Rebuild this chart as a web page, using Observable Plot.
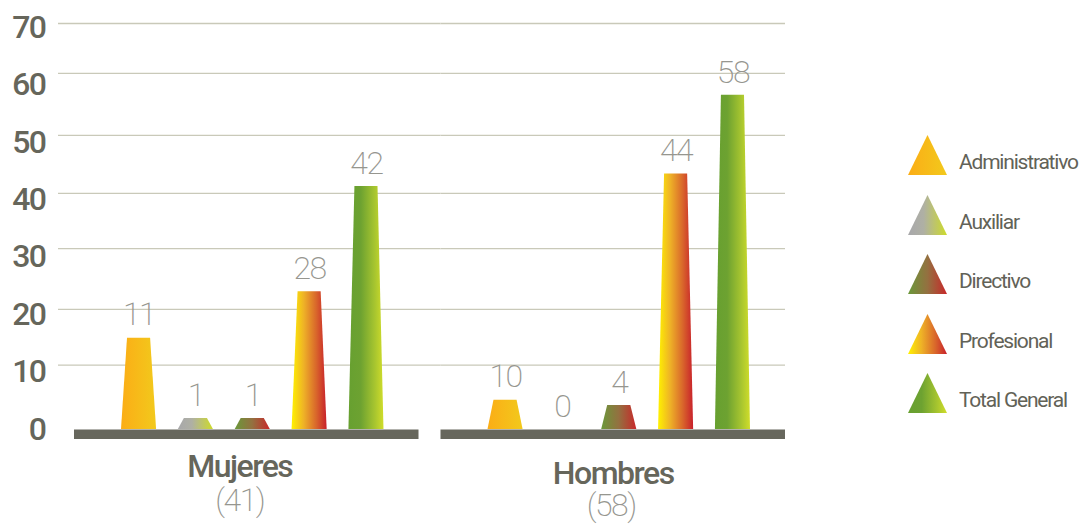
<!DOCTYPE html>
<html><head><meta charset="utf-8">
<script src="https://cdn.jsdelivr.net/npm/d3@7"></script>
<script src="https://cdn.jsdelivr.net/npm/@observablehq/plot@0.6"></script>
<style>
body{margin:0;background:#fff;}
#wrap{position:relative;width:1084px;height:525px;overflow:hidden;font-family:Roboto,sans-serif;background:#fff;}
#legend{position:absolute;left:908px;top:135px;}
.item{position:absolute;left:0;width:176px;height:40px;}
.item svg{position:absolute;left:0;top:0;}
.item span{position:absolute;left:51px;top:16px;font-size:21px;line-height:22px;color:#626257;letter-spacing:-1.2px;white-space:nowrap;}
#chart svg text{letter-spacing:-1.5px;}
</style></head><body>
<div id="wrap">
<svg id="defs" width="0" height="0" style="position:absolute;left:0;top:0"><defs></defs></svg>
<div id="chart"></div>
<div id="legend"></div>
</div>
<script>
// ---- data ----
const groups = ["Mujeres", "Hombres"];
const groupTotals = ["(41)", "(58)"];
const categories = ["Administrativo", "Auxiliar", "Directivo", "Profesional", "Total General"];
const mujeresValues = [15.9, 1.9, 1.9, 24.0, 42.3];   // drawn bar heights
const hombresValues = [5.1, 0, 4.2, 44.5, 58.2];
const mujeresLabels = ["11", "1", "1", "28", "42"];   // printed labels
const hombresLabels = ["10", "0", "4", "44", "58"];
const yTicks = [0, 10, 20, 30, 40, 50, 60, 70];
const gridLevels = [11.2, 20.9, 31.5, 41.1, 51.2, 62.0, 70.7];

// ---- styles ----
const gradientStops = {
  "Administrativo": [[0, "#fbad16"], [1, "#f2c91c"]],
  "Auxiliar": [[0, "#a8a8ab"], [0.4, "#afb0a4"], [1, "#cddb2a"]],
  "Directivo": [[0, "#6a983a"], [0.5, "#947040"], [1, "#c8282a"]],
  "Profesional": [[0, "#fff200"], [0.35, "#eeb127"], [0.7, "#d9672b"], [1, "#c8202b"]],
  "Total General": [[0, "#67a030"], [0.35, "#6da231"], [0.75, "#a7c52f"], [1, "#d0dd2a"]]
};
const textColor = "#66665b";
const lightText = "#96968f";

const defs = d3.select("#defs defs");
categories.forEach((c, i) => {
  const g = defs.append("linearGradient").attr("id", "grad-" + i)
    .attr("x1", 0).attr("x2", 1).attr("y1", 0).attr("y2", 0);
  gradientStops[c].forEach(([o, col]) => g.append("stop").attr("offset", o).attr("stop-color", col));
});
const gradUrl = c => `url(#grad-${categories.indexOf(c)})`;

const data = [];
groups.forEach((g, gi) => categories.forEach((c, ci) => data.push({
  group: g, category: c,
  value: (gi ? hombresValues : mujeresValues)[ci],
  label: (gi ? hombresLabels : mujeresLabels)[ci]
})));

const plot = Plot.plot({
  width: 1084, height: 525,
  marginTop: 27, marginBottom: 96, marginLeft: 74, marginRight: 299,
  style: {fontFamily: "Roboto, sans-serif", background: "transparent", overflow: "visible"},
  fx: {domain: groups, paddingInner: 0.06, paddingOuter: 0, round: false, axis: null},
  x: {domain: categories, paddingInner: 0.383, paddingOuter: 0, insetLeft: 47, insetRight: 35, round: false, axis: null},
  y: {domain: [0, 70]},
  color: {type: "identity"},
  marks: [
    Plot.ruleY(gridLevels, {y: d => d, fx: () => groups[0], stroke: "#c9c9b9", strokeWidth: 1.3, insetLeft: -16, insetRight: -22}),
    Plot.ruleY(gridLevels, {y: d => d, fx: () => groups[1], stroke: "#c9c9b9", strokeWidth: 1.3}),
    Plot.axisY(yTicks, {label: null, tickSize: 0, tickPadding: 29, fontSize: 32, fontWeight: 500, fill: textColor}),
    Plot.ruleY([0], {stroke: "#67675d", strokeWidth: 9.4, dy: 4.7}),
    Plot.barY(data, {fx: "group", x: "category", y: "value", fill: d => gradUrl(d.category)}),
    Plot.text(data, {fx: "group", x: "category", y: "value", text: "label", dy: -23, lineAnchor: "middle",
      fontSize: 32, fontWeight: 200, fill: lightText}),
    Plot.text([groups[0]], {fx: d => d, text: d => d, frameAnchor: "bottom", lineAnchor: "middle",
      dx: -7, dy: 37.5, fontSize: 32, fontWeight: 500, fill: textColor}),
    Plot.text([groups[1]], {fx: d => d, text: d => d, frameAnchor: "bottom", lineAnchor: "middle",
      dx: 0, dy: 44, fontSize: 32, fontWeight: 500, fill: textColor}),
    Plot.text([groups[0]], {fx: d => d, text: d => groupTotals[0], frameAnchor: "bottom", lineAnchor: "middle",
      dx: -7, dy: 71.5, fontSize: 32, fontWeight: 200, fill: lightText}),
    Plot.text([groups[1]], {fx: d => d, text: d => groupTotals[1], frameAnchor: "bottom", lineAnchor: "middle",
      dx: -2, dy: 76.5, fontSize: 32, fontWeight: 200, fill: lightText})
  ]
});

// turn the bar rectangles into tapered (trapezoid) columns
d3.select(plot).selectAll('g[aria-label="bar"] rect').each(function() {
  const r = d3.select(this);
  const x = +r.attr("x"), y = +r.attr("y"), w = +r.attr("width"), h = +r.attr("height");
  const inset = Math.min(6, w / 2 - 1);
  d3.select(this.parentNode).insert("path", () => this)
    .attr("d", `M${x},${y + h}L${x + inset},${y}L${x + w - inset},${y}L${x + w},${y + h}Z`)
    .attr("fill", r.attr("fill"));
  r.remove();
});

document.getElementById("chart").appendChild(plot);

// legend
const legend = d3.select("#legend");
categories.forEach((c, i) => {
  const item = legend.append("div").attr("class", "item").style("top", (i * 59.5) + "px");
  item.append("svg").attr("width", 40).attr("height", 40)
    .append("polygon").attr("points", "0,40 19.5,0 39,40").attr("fill", gradUrl(c));
  item.append("span").text(c);
});
</script>
</body></html>
